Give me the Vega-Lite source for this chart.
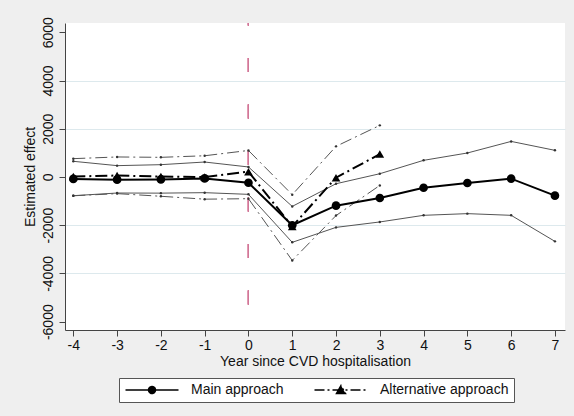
{
  "$schema": "https://vega.github.io/schema/vega-lite/v6.json",
  "width": 500,
  "height": 307,
  "autosize": {"type": "none"},
  "padding": {"left": 65, "top": 23, "right": 9, "bottom": 86},
  "background": "#efefef",
  "config": {
    "font": "Liberation Sans",
    "view": {"fill": "white", "stroke": null},
    "axis": {
      "domainColor": "#444",
      "tickColor": "#444",
      "tickSize": 6,
      "labelColor": "#111",
      "titleColor": "#111",
      "labelFontSize": 14,
      "titleFontSize": 14,
      "titleFontWeight": "normal",
      "grid": false
    }
  },
  "data": {
    "values": [
      {"approach": "Main approach", "year": -4, "est": -80, "lo": -775, "hi": 650},
      {"approach": "Main approach", "year": -3, "est": -110, "lo": -665, "hi": 470},
      {"approach": "Main approach", "year": -2, "est": -100, "lo": -670, "hi": 510},
      {"approach": "Main approach", "year": -1, "est": -60, "lo": -650, "hi": 620},
      {"approach": "Main approach", "year": 0, "est": -240, "lo": -720, "hi": 415},
      {"approach": "Main approach", "year": 1, "est": -2000, "lo": -2710, "hi": -1220},
      {"approach": "Main approach", "year": 2, "est": -1190, "lo": -2090, "hi": -280},
      {"approach": "Main approach", "year": 3, "est": -870, "lo": -1865, "hi": 135},
      {"approach": "Main approach", "year": 4, "est": -445, "lo": -1590, "hi": 690},
      {"approach": "Main approach", "year": 5, "est": -250, "lo": -1520, "hi": 995},
      {"approach": "Main approach", "year": 6, "est": -70, "lo": -1590, "hi": 1475},
      {"approach": "Main approach", "year": 7, "est": -775, "lo": -2670, "hi": 1105},
      {"approach": "Alternative approach", "year": -4, "est": 20, "lo": -780, "hi": 760},
      {"approach": "Alternative approach", "year": -3, "est": 60, "lo": -690, "hi": 830},
      {"approach": "Alternative approach", "year": -2, "est": 20, "lo": -800, "hi": 815},
      {"approach": "Alternative approach", "year": -1, "est": 0, "lo": -920, "hi": 880},
      {"approach": "Alternative approach", "year": 0, "est": 220, "lo": -900, "hi": 1100},
      {"approach": "Alternative approach", "year": 1, "est": -2050, "lo": -3460, "hi": -735},
      {"approach": "Alternative approach", "year": 2, "est": -30, "lo": -1600, "hi": 1270},
      {"approach": "Alternative approach", "year": 3, "est": 950, "lo": -350, "hi": 2140}
    ]
  },
  "encoding": {
    "x": {
      "field": "year",
      "type": "quantitative",
      "title": "Year since CVD hospitalisation",
      "scale": {"domain": [-4.19, 7.23], "nice": false, "zero": false},
      "axis": {
        "values": [-4, -3, -2, -1, 0, 1, 2, 3, 4, 5, 6, 7],
        "labelExpr": "'' + datum.value",
        "labelPadding": 2,
        "titlePadding": 2
      }
    }
  },
  "layer": [
    {
      "mark": {"type": "rule", "color": "#b0305a", "strokeWidth": 1.5},
      "encoding": {
        "y": {
          "datum": 0,
          "type": "quantitative",
          "title": "Estimated effect",
          "scale": {"domain": [-6345, 6385], "nice": false, "zero": false},
          "axis": {
            "values": [-6000, -4000, -2000, 0, 2000, 4000, 6000],
            "labelExpr": "'' + datum.value",
            "labelAngle": -90,
            "labelAlign": "center",
            "labelBaseline": "bottom",
            "labelPadding": 4,
            "titlePadding": 4,
            "grid": true,
            "gridColor": "#dde9ed",
            "gridOpacity": {
              "condition": {"test": "abs(datum.value) == 2000 || abs(datum.value) == 4000", "value": 1},
              "value": 0
            }
          }
        }
      }
    },
    {
      "mark": {"type": "rule", "color": "#d07898", "strokeWidth": 1, "strokeDash": [14, 32.5], "strokeDashOffset": 11.5},
      "encoding": {"x": {"datum": 0, "type": "quantitative"}}
    },
    {
      "transform": [
        {"filter": "datum.approach === 'Main approach'"},
        {"fold": ["lo", "hi"], "as": ["bound", "ci"]}
      ],
      "mark": {"type": "line", "color": "#555", "strokeWidth": 1, "point": {"filled": true, "size": 6, "color": "#333"}},
      "encoding": {
        "y": {"field": "ci", "type": "quantitative", "title": "Estimated effect"},
        "detail": {"field": "bound"}
      }
    },
    {
      "transform": [
        {"filter": "datum.approach === 'Alternative approach'"},
        {"fold": ["lo", "hi"], "as": ["bound", "ci"]}
      ],
      "mark": {"type": "line", "color": "#555", "strokeWidth": 1, "strokeDash": [12, 4, 2, 4], "point": {"filled": true, "size": 6, "color": "#333"}},
      "encoding": {
        "y": {"field": "ci", "type": "quantitative", "title": "Estimated effect"},
        "detail": {"field": "bound"}
      }
    },
    {
      "transform": [{"filter": "datum.approach === 'Main approach'"}],
      "mark": {"type": "line", "color": "#000", "strokeWidth": 2, "point": {"shape": "circle", "filled": true, "size": 75, "color": "#000", "opacity": 1}},
      "encoding": {
        "y": {"field": "est", "type": "quantitative", "title": "Estimated effect"}
      }
    },
    {
      "transform": [{"filter": "datum.approach === 'Alternative approach'"}],
      "mark": {"type": "line", "color": "#000", "strokeWidth": 2, "strokeDash": [12, 4, 2, 4], "point": {"shape": "triangle-up", "filled": true, "size": 75, "color": "#000", "opacity": 1}},
      "encoding": {
        "y": {"field": "est", "type": "quantitative", "title": "Estimated effect"}
      }
    },
    {
      "description": "Legend key only: each entry shows the series line with its marker.",
      "transform": [{"filter": "false"}],
      "mark": {"type": "point", "filled": true, "fill": "#000", "stroke": "#000", "strokeWidth": 1.2, "opacity": 1},
      "encoding": {
        "y": {"field": "est", "type": "quantitative", "title": "Estimated effect"},
        "shape": {
          "field": "approach",
          "scale": {
            "domain": ["Main approach", "Alternative approach"],
            "range": [
              "M-5.3,0H5.3M-0.7,0A0.7,0.7,0,1,0,0.7,0A0.7,0.7,0,1,0,-0.7,0Z",
              "M-5.3,0H5.3M-0.9,0.7L0.9,0.7L0,-0.9Z"
            ]
          },
          "legend": {
            "title": null,
            "orient": "none",
            "legendX": 54,
            "legendY": 355,
            "direction": "horizontal",
            "columns": 2,
            "padding": 5,
            "strokeColor": "#555",
            "fillColor": "white",
            "cornerRadius": 0,
            "symbolSize": 100,
            "symbolOffset": 21,
            "labelOffset": 32,
            "columnPadding": 27,
            "labelFontSize": 14,
            "labelColor": "#111",
            "labelFont": "Liberation Sans",
            "encode": {
              "symbols": {
                "update": {
                  "fill": {"value": "#000"},
                  "stroke": {"value": "#000"},
                  "strokeWidth": {"value": 1.2},
                  "opacity": {"value": 1}
                }
              }
            }
          }
        },
        "strokeDash": {
          "field": "approach",
          "scale": {"domain": ["Main approach", "Alternative approach"], "range": [[1, 0], [10, 3, 2, 3]]},
          "legend": {
            "title": null,
            "orient": "none",
            "legendX": 54,
            "legendY": 355,
            "direction": "horizontal",
            "columns": 2,
            "padding": 5,
            "strokeColor": "#555",
            "fillColor": "white",
            "cornerRadius": 0,
            "symbolSize": 100,
            "symbolOffset": 21,
            "labelOffset": 32,
            "columnPadding": 27,
            "labelFontSize": 14,
            "labelColor": "#111",
            "labelFont": "Liberation Sans",
            "encode": {
              "symbols": {
                "update": {
                  "fill": {"value": "#000"},
                  "stroke": {"value": "#000"},
                  "strokeWidth": {"value": 1.2},
                  "opacity": {"value": 1}
                }
              }
            }
          }
        }
      }
    }
  ]
}
